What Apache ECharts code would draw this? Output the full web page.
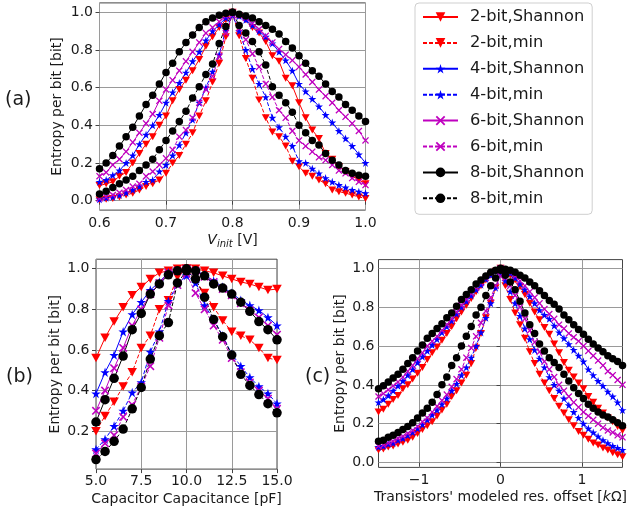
<!DOCTYPE html>
<html><head><meta charset="utf-8">
<script src="https://cdn.jsdelivr.net/npm/echarts@6/dist/echarts.min.js"></script>
<style>html,body{margin:0;padding:0;background:#fff}#c{width:627px;height:513px}</style>
</head><body><div id="c"></div>
<script>
const seriesNames = ['2-bit,Shannon','2-bit,min','4-bit,Shannon','4-bit,min','6-bit,Shannon','6-bit,min','8-bit,Shannon','8-bit,min'];

// Panel (a): V_init [V]
const xA = [0.60,0.61,0.62,0.63,0.64,0.65,0.66,0.67,0.68,0.69,0.70,0.71,0.72,0.73,0.74,0.75,0.76,0.77,0.78,0.79,0.80,
            0.81,0.82,0.83,0.84,0.85,0.86,0.87,0.88,0.89,0.90,0.91,0.92,0.93,0.94,0.95,0.96,0.97,0.98,0.99,1.00];
const a2S = [.08,.09,.10,.13,.15,.20,.25,.30,.34,.40,.45,.53,.59,.64,.69,.75,.82,.87,.92,.96,1.0,
             .98,.96,.92,.89,.845,.77,.74,.65,.61,.52,.44,.375,.33,.25,.22,.18,.155,.13,.11,.09];
const a2M = [.004,.007,.012,.02,.03,.04,.057,.075,.09,.11,.145,.20,.24,.30,.36,.45,.53,.63,.73,.87,.995,
             .875,.755,.65,.535,.44,.365,.34,.29,.21,.18,.145,.13,.11,.09,.057,.048,.04,.03,.02,.012];
const a4S = [.10,.11,.135,.16,.20,.24,.30,.35,.40,.455,.52,.575,.625,.68,.74,.79,.85,.90,.935,.97,1.0,
             .98,.96,.93,.90,.87,.835,.79,.745,.69,.62,.58,.54,.50,.455,.415,.37,.33,.29,.245,.20];
const a4M = [.007,.015,.02,.03,.042,.057,.075,.10,.11,.155,.19,.24,.295,.36,.43,.52,.60,.685,.775,.91,.985,
             .90,.80,.70,.62,.55,.44,.39,.34,.29,.21,.20,.17,.145,.12,.10,.083,.07,.057,.048,.04];
const a6S = [.13,.15,.19,.22,.26,.31,.36,.41,.46,.53,.59,.64,.69,.74,.79,.84,.89,.92,.95,.98,1.0,
             .985,.97,.94,.91,.875,.84,.805,.775,.745,.71,.67,.63,.59,.555,.52,.48,.445,.41,.37,.32];
const a6M = [.012,.02,.03,.042,.057,.075,.09,.13,.155,.19,.225,.27,.34,.375,.44,.52,.59,.66,.765,.89,.985,
             .915,.855,.78,.71,.62,.55,.48,.44,.37,.32,.29,.26,.23,.215,.19,.16,.145,.12,.10,.083];
const a8S = [.17,.20,.24,.29,.34,.39,.45,.51,.56,.62,.68,.73,.79,.84,.88,.92,.95,.97,.985,.995,1.0,
             .99,.98,.97,.95,.93,.91,.885,.845,.81,.77,.73,.69,.66,.62,.58,.55,.51,.48,.45,.42];
const a8M = [.035,.05,.07,.09,.11,.13,.16,.19,.22,.27,.32,.37,.42,.475,.545,.605,.67,.725,.835,.925,1.0,
             .93,.89,.845,.79,.72,.605,.56,.52,.47,.40,.36,.32,.295,.25,.215,.19,.16,.145,.135,.13];

// Panel (b): Capacitor Capacitance [pF]
const xB = [5,5.5,6,6.5,7,7.5,8,8.5,9,9.5,10,10.5,11,11.5,12,12.5,13,13.5,14,14.5,15];
const b2S = [.56,.66,.74,.81,.87,.91,.95,.98,.99,1.0,1.0,1.0,.99,.98,.965,.95,.935,.925,.91,.895,.90];
const b2M = [.20,.275,.345,.42,.49,.61,.67,.80,.845,.96,1.0,.94,.88,.81,.745,.69,.67,.65,.61,.56,.55];
const b4S = [.385,.49,.575,.69,.775,.835,.895,.935,.98,.99,.997,.99,.97,.94,.91,.88,.845,.82,.795,.76,.72];
const b4M = [.11,.16,.225,.30,.39,.44,.59,.69,.84,.925,.967,.93,.82,.75,.67,.58,.52,.465,.42,.385,.335];
const b6S = [.30,.40,.51,.61,.72,.80,.875,.93,.98,.99,1.0,.99,.96,.935,.90,.87,.83,.795,.76,.72,.675];
const b6M = [.09,.14,.18,.27,.33,.42,.52,.66,.82,.92,.975,.88,.80,.72,.65,.56,.49,.44,.40,.36,.31];
const b8S = [.245,.355,.46,.57,.70,.78,.875,.925,.97,.99,1.0,.99,.965,.925,.905,.875,.835,.79,.74,.70,.65];
const b8M = [.06,.10,.15,.21,.31,.415,.555,.67,.735,.93,.99,.95,.86,.75,.665,.575,.48,.425,.38,.335,.29];

// Panel (c): Transistors' modeled res. offset [kOhm]
const xC = [-1.5,-1.44,-1.38,-1.32,-1.26,-1.2,-1.14,-1.08,-1.02,-0.96,-0.9,-0.84,-0.78,-0.72,-0.66,-0.6,-0.54,-0.48,-0.42,-0.36,-0.3,-0.24,-0.18,-0.12,-0.06,0,
            0.06,0.12,0.18,0.24,0.3,0.36,0.42,0.48,0.54,0.6,0.66,0.72,0.78,0.84,0.9,0.96,1.02,1.08,1.14,1.2,1.26,1.32,1.38,1.44,1.5];
const c2S = [.26,.275,.30,.325,.345,.38,.40,.43,.46,.49,.53,.565,.595,.63,.665,.70,.74,.775,.81,.845,.88,.91,.94,.965,.985,1.0,
             .985,.965,.94,.905,.865,.82,.775,.735,.695,.66,.61,.565,.515,.475,.44,.41,.38,.34,.31,.28,.255,.23,.21,.185,.165];
const c2M = [.065,.07,.08,.085,.095,.105,.115,.13,.15,.17,.19,.21,.24,.27,.30,.34,.37,.41,.45,.51,.59,.665,.745,.82,.90,.98,
             .91,.84,.77,.71,.64,.57,.51,.455,.41,.37,.33,.29,.255,.22,.19,.16,.14,.12,.10,.09,.075,.065,.05,.04,.03];
const c4S = [.31,.325,.345,.37,.395,.42,.45,.48,.515,.545,.575,.605,.635,.67,.70,.73,.765,.80,.83,.86,.89,.915,.945,.965,.985,1.0,
             .99,.975,.95,.92,.89,.855,.82,.785,.76,.74,.705,.67,.64,.61,.58,.55,.52,.48,.45,.42,.395,.365,.34,.31,.27];
const c4M = [.08,.085,.095,.10,.115,.125,.14,.155,.175,.195,.22,.245,.27,.30,.33,.37,.405,.45,.49,.54,.60,.67,.745,.82,.90,.97,
             .935,.88,.82,.755,.69,.635,.58,.535,.49,.44,.40,.37,.33,.295,.26,.23,.20,.175,.155,.135,.115,.10,.085,.075,.065];
const c6S = [.34,.355,.375,.395,.415,.44,.47,.50,.535,.565,.60,.625,.65,.68,.71,.74,.775,.81,.84,.87,.90,.925,.95,.97,.985,1.0,
             .99,.98,.96,.935,.91,.88,.85,.82,.79,.765,.74,.71,.69,.665,.645,.625,.60,.575,.55,.525,.50,.47,.45,.425,.40];
const c6M = [.085,.09,.10,.11,.125,.135,.15,.165,.185,.21,.23,.26,.29,.32,.35,.39,.43,.48,.54,.59,.65,.72,.78,.85,.91,.96,
             .95,.91,.86,.80,.74,.68,.62,.57,.52,.48,.44,.40,.37,.34,.31,.285,.26,.24,.22,.20,.18,.165,.155,.14,.13];
const c8S = [.38,.395,.415,.435,.455,.48,.51,.54,.575,.605,.64,.665,.69,.715,.745,.77,.805,.84,.865,.89,.92,.94,.96,.98,.99,1.0,
             .995,.99,.98,.965,.95,.93,.91,.885,.86,.835,.815,.79,.76,.735,.71,.685,.66,.635,.61,.59,.57,.55,.535,.52,.50];
const c8M = [.11,.115,.13,.14,.155,.17,.185,.205,.23,.255,.28,.31,.35,.40,.44,.50,.54,.60,.65,.70,.76,.80,.86,.91,.95,.99,
             .965,.93,.89,.83,.77,.71,.665,.61,.575,.54,.515,.49,.455,.42,.385,.355,.33,.30,.28,.26,.245,.235,.22,.205,.19];

// Tick values
const xTicksA = [0.6,0.7,0.8,0.9,1.0];
const xTicksB = [5,7.5,10,12.5,15];
const xTicksC = [-1,0,1];
const yTicksA = [0,0.2,0.4,0.6,0.8,1.0];
const yTicksB = [0.2,0.4,0.6,0.8,1.0];
const yTicksC = [0,0.2,0.4,0.6,0.8,1.0];

const FONT = 'DejaVu Sans';
const TXT = '#1a1a1a';
const GRIDC = '#9a9a9a';
const FRAME = '#444';

const DOWN = 'path://M0,0L10,0L5,8.7Z';
const STAR = 'path://M50,0L61.2,34.5L97.6,34.5L68.2,55.9L79.4,90.5L50,69.1L20.6,90.5L31.8,55.9L2.4,34.5L38.8,34.5Z';
const XMARK = 'path://M0,1.3L1.3,0L5,3.7L8.7,0L10,1.3L6.3,5L10,8.7L8.7,10L5,6.3L1.3,10L0,8.7L3.7,5Z';

const look = [
  {color:'#ff0000', type:'solid',  sym:DOWN,  k:'tri'},
  {color:'#ff0000', type:[4,2],    sym:DOWN,  k:'tri'},
  {color:'#0000ff', type:'solid',  sym:STAR,  k:'star'},
  {color:'#0000ff', type:[4,2],    sym:STAR,  k:'star'},
  {color:'#bf00bf', type:'solid',  sym:XMARK, k:'x'},
  {color:'#bf00bf', type:[4,2],    sym:XMARK, k:'x'},
  {color:'#000000', type:'solid',  sym:'circle', k:'dot'},
  {color:'#000000', type:[4,2],    sym:'circle', k:'dot'}
];
const sizesSmall = {tri:[8,7], star:8, x:7, dot:7.5};
const sizesBig = {tri:[9.5,8.5], star:9.5, x:8.5, dot:9.5};

const panels = [
  {xs:xA, ys:[a2S,a2M,a4S,a4M,a6S,a6M,a8S,a8M], sizes:sizesSmall},
  {xs:xB, ys:[b2S,b2M,b4S,b4M,b6S,b6M,b8S,b8M], sizes:sizesBig},
  {xs:xC, ys:[c2S,c2M,c4S,c4M,c6S,c6M,c8S,c8M], sizes:sizesSmall}
];

const series = [];
panels.forEach((p, gi) => {
  p.ys.forEach((ys, si) => {
    const L = look[si];
    series.push({
      type:'line', name: seriesNames[si], xAxisIndex: gi, yAxisIndex: gi,
      data: p.xs.map((x, i) => [x, ys[i]]),
      symbol: L.sym, symbolSize: p.sizes[L.k], showSymbol: true, showAllSymbol: true,
      lineStyle: {color: L.color, width: 1, type: L.type},
      itemStyle: {color: L.color, borderWidth: 0},
      emphasis: {disabled: true}, animation: false, z: 3
    });
  });
});

function xAxisCfg(gi, min, max, ticks, fmt, name, rich, labelMargin, nameGap) {
  return {
    type:'value', gridIndex: gi, min, max,
    axisLine: {show: false},
    axisTick: {show: true, inside: false, length: 4, lineStyle: {color: FRAME}, customValues: ticks},
    axisLabel: {customValues: ticks, formatter: fmt, fontSize: 14, color: TXT, margin: labelMargin, fontFamily: FONT},
    splitLine: {show: true, lineStyle: {color: GRIDC, width: 1}},
    name, nameLocation: 'middle', nameGap,
    nameTextStyle: {fontSize: 14, color: TXT, fontFamily: FONT, rich}
  };
}
function yAxisCfg(gi, min, max, ticks, labelMargin, nameGap) {
  return {
    type:'value', gridIndex: gi, min, max,
    axisLine: {show: false},
    axisTick: {show: true, inside: false, length: 4, lineStyle: {color: FRAME}, customValues: ticks},
    axisLabel: {customValues: ticks, formatter: v => v.toFixed(1), fontSize: 14, color: TXT, margin: labelMargin, fontFamily: FONT},
    splitLine: {show: true, lineStyle: {color: GRIDC, width: 1}},
    name: 'Entropy per bit [bit]', nameLocation: 'middle', nameGap,
    nameTextStyle: {fontSize: 14, color: TXT, fontFamily: FONT}
  };
}

const gridBase = {show: true, borderColor: FRAME, borderWidth: 1, backgroundColor: 'transparent', containLabel: false, outerBoundsMode: 'none'};

const option = {
  animation: false,
  backgroundColor: '#ffffff',
  textStyle: {fontFamily: FONT},
  grid: [
    Object.assign({left: 99.5, top: 2.9, width: 266, height: 207.2}, gridBase),
    Object.assign({left: 96, top: 259.2, width: 181, height: 209.9}, gridBase),
    Object.assign({left: 378.5, top: 259.6, width: 244, height: 207.8}, gridBase)
  ],
  xAxis: [
    xAxisCfg(0, 0.6, 1.0, xTicksA, v => v.toFixed(1), '{i|V}{s|init} [V]',
      {i: {fontStyle: 'italic', fontSize: 14, color: TXT, fontFamily: FONT},
       s: {fontStyle: 'italic', fontSize: 10, color: TXT, fontFamily: FONT, padding: [7, 0, 0, 0]}}, 6, 22),
    xAxisCfg(1, 5, 15, xTicksB, v => v.toFixed(1), 'Capacitor Capacitance [pF]', undefined, 5.5, 23),
    xAxisCfg(2, -1.5, 1.5, xTicksC, v => (v < 0 ? '\u2212' + Math.abs(v) : String(v)),
      "Transistors' modeled res. offset [{k|k}\u03a9]",
      {k: {fontStyle: 'italic', fontSize: 14, color: TXT, fontFamily: FONT}}, 5.5, 23)
  ],
  yAxis: [
    yAxisCfg(0, -0.05, 1.05, yTicksA, 6.5, 35),
    yAxisCfg(1, 0.013, 1.047, yTicksB, 6.5, 33.5),
    yAxisCfg(2, -0.025, 1.045, yTicksC, 4, 31.5)
  ],
  legend: {
    data: seriesNames, orient: 'vertical', left: 415, top: 3,
    padding: [6, 8, 8, 7], itemGap: 9.9, itemWidth: 35, itemHeight: 12,
    backgroundColor: '#fff', borderColor: '#cfcfcf', borderWidth: 1, borderRadius: 4,
    selectedMode: false,
    textStyle: {fontSize: 16.3, color: TXT, fontFamily: FONT, lineHeight: 16, padding: [0, 0, 0, 7]}
  },
  graphic: [
    {type: 'text', left: 5, top: 91, style: {text: '(a)', fontSize: 19, fill: TXT, fontFamily: FONT}},
    {type: 'text', left: 6, top: 368, style: {text: '(b)', fontSize: 19, fill: TXT, fontFamily: FONT}},
    {type: 'text', left: 305, top: 368, style: {text: '(c)', fontSize: 19, fill: TXT, fontFamily: FONT}}
  ],
  series
};
const chart = echarts.init(document.getElementById('c'), null, {renderer: 'canvas'});
chart.setOption(option);
</script>
</body></html>
